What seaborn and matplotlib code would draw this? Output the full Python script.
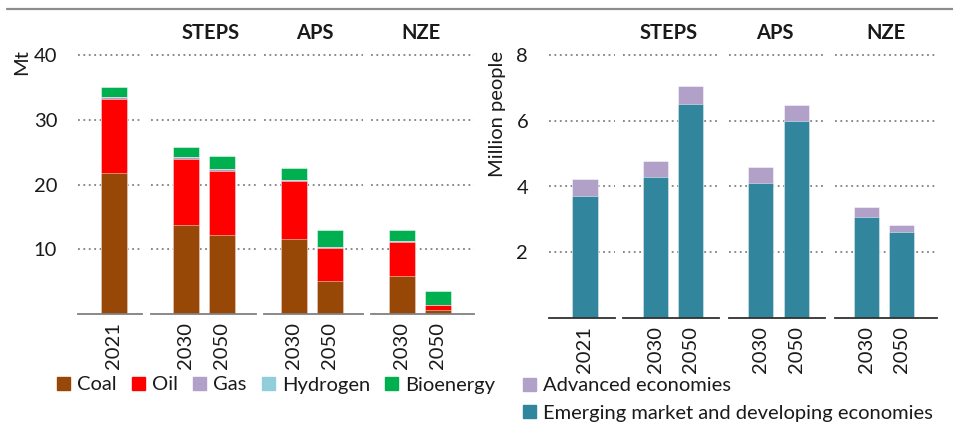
import matplotlib
matplotlib.use("Agg")
import matplotlib.pyplot as plt
import matplotlib.patches as mpatches
from matplotlib.lines import Line2D
import seaborn as sns
import pandas as pd

sns.set_style("white")
plt.rcParams['font.family'] = ['Lato', 'DejaVu Sans']

# ---------------- data ----------------
years = ['2021', '2030', '2050', '2030', '2050', '2030', '2050']
scenarios = ['2021', 'STEPS', 'STEPS', 'APS', 'APS', 'NZE', 'NZE']
scenario_order = ['2021', 'STEPS', 'APS', 'NZE']

# left panel (Mt)
coal = [21.8, 13.7, 12.2, 11.6, 5.0, 5.8, 0.5]
oil = [11.4, 10.2, 9.9, 8.9, 5.2, 5.3, 0.8]
gas = [0.3, 0.3, 0.3, 0.2, 0.15, 0.2, 0.05]
hydrogen = [0.0, 0.0, 0.0, 0.0, 0.0, 0.0, 0.05]
bioenergy = [1.6, 1.7, 2.05, 1.8, 2.55, 1.6, 2.1]
left_names = ['Coal', 'Oil', 'Gas', 'Hydrogen', 'Bioenergy']
left_colors = ['#974706', '#FF0000', '#B1A0C7', '#92CDDC', '#00B050']
left_yticks = [10, 20, 30, 40]

# right panel (Million people)
emerging = [3.71, 4.30, 6.52, 4.12, 6.00, 3.08, 2.62]
advanced = [0.52, 0.48, 0.54, 0.48, 0.50, 0.30, 0.22]
right_names = ['Emerging market and developing economies', 'Advanced economies']
right_colors = ['#31859C', '#B1A0C7']
right_yticks = [2, 4, 6, 8]

left_df = pd.DataFrame({'year': years, 'scenario': scenarios, 'Coal': coal, 'Oil': oil,
                        'Gas': gas, 'Hydrogen': hydrogen, 'Bioenergy': bioenergy})
right_df = pd.DataFrame({'year': years, 'scenario': scenarios,
                         right_names[0]: emerging, right_names[1]: advanced})

# ---------------- layout (pixels) ----------------
W, H = 954, 422
fig = plt.figure(figsize=(W / 100, H / 100), dpi=100)

TXT = '#1a1a1a'
FS = 14.5


def draw_panel(df, names, colors, yticks, ymax, zero_px, px_per_unit,
               groups_px, centers_px, spacing, bar_w, base_color, ylabel_cfg,
               title_px):
    top_px = zero_px - ymax * px_per_unit
    axes = []
    for gi, scen in enumerate(scenario_order):
        L, R = groups_px[gi]
        ax = fig.add_axes([L / W, 1 - zero_px / H, (R - L) / W, (zero_px - top_px) / H])
        sub = df[df['scenario'] == scen].reset_index(drop=True)
        order = list(sub['year'])
        cum = sub[names].cumsum(axis=1)
        for k in range(len(names) - 1, -1, -1):
            sns.barplot(x=sub['year'], y=cum[names[k]], order=order, color=colors[k],
                        saturation=1, width=bar_w, ax=ax,
                        edgecolor=(1, 1, 1, 0.55), linewidth=0.6)
        cs = centers_px[gi]
        n = len(order)
        ax.set_xlim(-(cs[0] - L) / spacing, (n - 1) + (R - cs[-1]) / spacing)
        ax.set_ylim(0, ymax)
        ax.set_xlabel('')
        ax.set_ylabel('')
        for s in ['top', 'right', 'left']:
            ax.spines[s].set_visible(False)
        ax.spines['bottom'].set_color(base_color)
        ax.spines['bottom'].set_linewidth(1.3)
        ax.set_yticks(yticks)
        ax.set_axisbelow(True)
        ax.yaxis.grid(True, linestyle=(0, (1, 2)), color='#808080', linewidth=1.3)
        ax.xaxis.grid(False)
        ax.tick_params(axis='x', length=0, pad=6.0, labelsize=FS, labelcolor=TXT,
                       labelrotation=90)
        if gi == 0:
            ax.tick_params(axis='y', length=0, pad=15, labelsize=FS, labelcolor=TXT)
        else:
            ax.tick_params(axis='y', length=0, labelleft=False)
        if scen != '2021':
            fig.text(title_px[gi] / W, 1 - 33 / H, scen, ha='center', va='center',
                     fontsize=FS, fontweight='bold', color=TXT)
        axes.append(ax)
    lx, ly, ltxt = ylabel_cfg
    fig.text(lx / W, 1 - ly / H, ltxt, rotation=90, ha='center', va='center',
             fontsize=FS, color=TXT)
    return axes


draw_panel(left_df, left_names, left_colors, left_yticks, 41, 313.7, 6.455,
           [(78, 142), (151, 256), (264, 363), (371, 474)],
           [[114], [186, 222], [294, 330], [402, 438]], 36, 0.72, '#808080',
           (21.5, 62, 'Mt'), [None, 211, 314.5, 421])

draw_panel(right_df, right_names, right_colors, right_yticks, 8.2, 317.7, 32.8,
           [(549, 615), (623, 719), (729, 825), (835, 937)],
           [[585], [655, 690.5], [761, 796], [866.5, 901.5]], 35.3, 0.71, '#303030',
           (497, 114, 'Million people'), [None, 669, 774.5, 886])

# top rule
fig.add_artist(Line2D([7 / W, 1], [1 - 9 / H, 1 - 9 / H], color='#8c8c8c', linewidth=1.6))

# legends
lh = [mpatches.Patch(color=c, label=n) for n, c in zip(left_names, left_colors)]
fig.legend(handles=lh, loc='center left', bbox_to_anchor=(57 / W, 1 - 385 / H), ncol=5,
           frameon=False, fontsize=FS, handlelength=0.65, handleheight=0.65,
           handletextpad=0.35, columnspacing=0.75, borderpad=0, borderaxespad=0,
           labelcolor=TXT)
rh = [mpatches.Patch(color=right_colors[1], label=right_names[1]),
      mpatches.Patch(color=right_colors[0], label=right_names[0])]
fig.legend(handles=rh, loc='center left', bbox_to_anchor=(523 / W, 1 - 399.5 / H), ncol=1,
           frameon=False, fontsize=FS, handlelength=0.65, handleheight=0.65,
           handletextpad=0.35, labelspacing=0.5, borderpad=0, borderaxespad=0,
           labelcolor=TXT)

fig.savefig('out.png', dpi=100)
